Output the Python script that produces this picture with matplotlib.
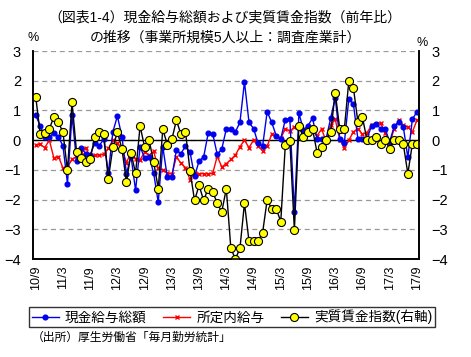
import numpy as np
import matplotlib
matplotlib.use("Agg")
from matplotlib import pyplot as plt
from matplotlib.lines import Line2D

# フォント設定 (数字は Arial 風、和文は Noto CJK)
plt.rcParams['font.family'] = ['Liberation Sans', 'Noto Sans CJK JP']
plt.rcParams['axes.unicode_minus'] = True

# データ (2010/9 ～ 2017/9、前年比 %)
months = ["10/9", "11/3", "11/9", "12/3", "12/9", "13/3", "13/9", "14/3",
          "14/9", "15/3", "15/9", "16/3", "16/9", "17/3", "17/9"]

total_wage = [0.84, 0.48, 0.11, 0.10, 0.25, 0.11, -0.19, -1.46, 0.84, -0.70,
              -0.25, -0.45, -0.50, -0.10, -0.18, 0.03, -1.12, 0.28, 0.81, 0.12,
              -1.13, -0.54, -1.69, -0.22, -0.60, -0.55, -1.12, -2.09, -0.22, -1.24,
              -1.24, -0.34, -0.45, -0.20, -0.40, -1.22, -0.70, -0.57, 0.23, 0.22,
              -0.48, -0.30, 0.38, 0.38, 0.28, 0.60, 1.96, 0.60, 0.39, -0.10,
              -0.20, 0.96, 0.60, 0.15, 0.05, 0.69, 0.72, -2.41, 0.90, 0.35,
              0.49, 0.74, 0.03, 0.04, 0.05, 0.74, 1.43, 0.05, -0.10, 1.40,
              1.22, 0.03, 0.03, 0.05, 0.48, 0.54, 0.39, 0.37, -0.05, 0.47,
              0.61, 0.45, -0.58, 0.71, 0.95]

base_wage = [-0.15, -0.14, -0.25, 0.00, -0.60, -0.55, -0.93, -0.90, -0.65, -0.55,
             -0.40, -0.25, -0.56, -0.50, -0.50, -0.48, -0.28, 0.00, -0.10, -0.30,
             -0.76, -0.40, -0.65, -0.66, -0.40, -0.50, -0.38, -0.95, -1.00, -1.10,
             -1.15, -0.56, -0.78, -0.92, -1.33, -1.10, -1.13, -1.13, -1.13, -1.12,
             -0.54, -0.90, -0.79, -0.65, -0.50, -0.22, 0.00, -0.25, 0.00, -0.20,
             -0.36, -0.20, 0.20, 0.13, 0.06, 0.39, 0.30, 0.45, 0.50, 0.10,
             0.20, 0.32, 0.15, 0.38, -0.05, 0.50, 0.70, 0.02, -0.25, 0.00,
             0.28, 0.39, 0.20, 0.25, 0.50, 0.56, 0.58, 0.25, -0.11, 0.39,
             0.67, 0.50, 0.45, 0.28, 0.67]

real_wage = [1.47, 0.20, 0.25, 0.38, 0.78, 0.60, 0.27, -1.02, 1.28, -0.40,
             -0.60, -0.74, -0.63, 0.09, 0.29, 0.20, -1.31, -0.24, 0.27, -0.29,
             -1.41, -0.42, -1.12, 0.48, -0.24, -0.01, -0.74, -1.63, 0.37, -0.15,
             0.03, 0.67, 0.20, 0.29, -1.03, -2.03, -1.52, -2.03, -1.63, -1.73,
             -2.13, -2.41, -1.63, -3.64, -4.00, -3.64, -2.12, -3.40, -3.40, -3.40,
             -3.11, -2.01, -2.31, -2.31, -2.74, -0.16, -0.02, -3.02, 0.48, 0.09,
             0.27, 0.37, -0.42, -0.24, -0.01, 0.27, 1.60, 0.37, 0.37, 2.00,
             1.77, 0.60, 0.77, 0.00, 0.00, 0.09, -0.13, 0.00, -0.29, 0.00,
             0.00, -0.13, -1.13, -0.12, -0.12]

x = np.arange(len(total_wage))

fig = plt.figure(figsize=(4.71, 3.57), dpi=100)
ax = fig.add_axes([0.071, 0.2745, 0.819, 0.5825])

# グリッド
ax.set_ylim(-4, 3)
ax.set_xlim(-0.5, len(x) - 0.5)
ax.set_yticks(range(-4, 4))
ax.yaxis.grid(True, color='#999999', linestyle=(0, (4, 3)), lw=0.9)
ax.set_axisbelow(True)
ax.axhline(0, color='black', lw=1.0, zorder=1)

# 左軸の系列
ax.plot(x, base_wage, color='red', marker='x', ms=3.5, mew=1.0, lw=1.0, zorder=2)
ax.plot(x, total_wage, color='#0000ee', marker='o', ms=3.4, lw=1.0, zorder=3)

# 右軸 (実質賃金指数)
ax2 = ax.twinx()
ax2.set_ylim(-4, 3)
ax2.set_yticks(range(-4, 4))
ax2.plot(x, real_wage, color='black', lw=1.0, marker='o', ms=5.8,
         mfc='#ffff00', mec='black', mew=0.8)

for a in (ax, ax2):
    a.spines['top'].set_visible(False)
    for s in ('left', 'right', 'bottom'):
        a.spines[s].set_linewidth(1.2)
    a.tick_params(axis='y', length=0, labelsize=10.5, pad=9)

ax.set_xticks(x[::6])
ax.set_xticklabels(months, rotation=90, fontsize=9)
ax.tick_params(axis='x', length=0, pad=5)

# タイトル・単位
fig.text(0.478, 0.95, "（図表1-4）現金給与総額および実質賃金指数（前年比）",
         ha='center', va='center', fontsize=10)
fig.text(0.478, 0.895, "の推移（事業所規模5人以上：調査産業計）",
         ha='center', va='center', fontsize=10)
fig.text(0.07, 0.893, "%", ha='center', va='center', fontsize=9)
fig.text(0.897, 0.88, "%", ha='center', va='center', fontsize=9)

# 凡例
handles = [
    Line2D([], [], color='#0000ee', marker='o', ms=3.4, lw=1.0),
    Line2D([], [], color='red', marker='x', ms=3.5, mew=1.0, lw=1.0),
    Line2D([], [], color='black', marker='o', ms=5.8, mfc='#ffff00', mec='black', mew=0.8, lw=1.0),
]
labels = ["現金給与総額", "所定内給与", "実質賃金指数(右軸)"]
leg = fig.legend(handles, labels, loc='center', ncol=3,
                 bbox_to_anchor=(232 / 471, 1 - 317 / 357),
                 fontsize=9.8, frameon=True, fancybox=False, edgecolor='black',
                 handlelength=2.0, handletextpad=0.45, borderpad=0.2,
                 columnspacing=1.2, borderaxespad=0)
leg.get_frame().set_linewidth(1.0)

# 出所
fig.text(0.068, 0.053, "（出所）厚生労働省「毎月勤労統計」", ha='left', va='center', fontsize=8.5)

fig.savefig("out.png", dpi=100)
